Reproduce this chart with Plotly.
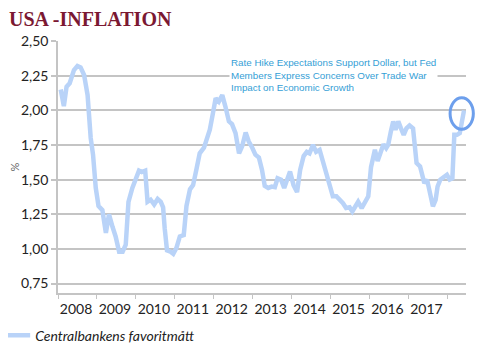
import plotly.graph_objects as go

# Decimal-year positions and values (core inflation, %)
years = [2008.07, 2008.15, 2008.22, 2008.30, 2008.41, 2008.50, 2008.58, 2008.67, 2008.76, 2008.84,
         2008.90, 2008.97, 2009.04, 2009.14, 2009.23, 2009.31, 2009.40, 2009.48, 2009.57, 2009.66,
         2009.74, 2009.81, 2009.91, 2010.00, 2010.08, 2010.15, 2010.24, 2010.30, 2010.38, 2010.47,
         2010.56, 2010.64, 2010.70, 2010.74, 2010.80, 2010.89, 2010.96, 2011.04, 2011.13, 2011.23,
         2011.30, 2011.39, 2011.47, 2011.56, 2011.64, 2011.75, 2011.82, 2011.90, 2011.98, 2012.05,
         2012.13, 2012.22, 2012.30, 2012.39, 2012.47, 2012.56, 2012.65, 2012.73, 2012.82, 2012.90,
         2012.99, 2013.07, 2013.16, 2013.24, 2013.31, 2013.40, 2013.49, 2013.57, 2013.64, 2013.73,
         2013.81, 2013.90, 2013.96, 2014.05, 2014.14, 2014.22, 2014.31, 2014.39, 2014.46, 2014.55,
         2014.63, 2014.72, 2014.80, 2014.91, 2014.99, 2015.06, 2015.15, 2015.23, 2015.32, 2015.40,
         2015.49, 2015.56, 2015.65, 2015.71, 2015.80, 2015.88, 2015.97, 2016.04, 2016.10, 2016.14,
         2016.21, 2016.30, 2016.36, 2016.43, 2016.48, 2016.55, 2016.61, 2016.67, 2016.74, 2016.81,
         2016.88, 2016.95, 2017.03, 2017.12, 2017.17, 2017.21, 2017.30, 2017.36, 2017.41, 2017.48,
         2017.53, 2017.58, 2017.63, 2017.70, 2017.75, 2017.82, 2017.91, 2017.99, 2018.06, 2018.13,
         2018.18, 2018.25, 2018.32, 2018.37, 2018.43]
values = [2.15, 2.03, 2.17, 2.195, 2.29, 2.32, 2.31, 2.255, 2.11, 1.80,
          1.68, 1.44, 1.31, 1.28, 1.115, 1.25, 1.16, 1.09, 0.98, 0.98,
          1.03, 1.34, 1.44, 1.51, 1.565, 1.555, 1.565, 1.34, 1.355, 1.32,
          1.36, 1.34, 1.30, 1.15, 0.99, 0.98, 0.965, 1.006, 1.09, 1.10,
          1.31, 1.43, 1.46, 1.58, 1.69, 1.73, 1.787, 1.86, 1.98, 2.087,
          2.063, 2.11, 2.027, 1.92, 1.90, 1.835, 1.69, 1.74, 1.84, 1.775,
          1.73, 1.68, 1.66, 1.57, 1.455, 1.44, 1.45, 1.446, 1.51, 1.50,
          1.44, 1.50, 1.558, 1.46, 1.41, 1.57, 1.67, 1.70, 1.69, 1.75,
          1.70, 1.715, 1.64, 1.547, 1.46, 1.38, 1.38, 1.36, 1.33, 1.295,
          1.30, 1.27, 1.31, 1.34, 1.295, 1.33, 1.38, 1.59, 1.68, 1.715,
          1.635, 1.715, 1.755, 1.727, 1.75, 1.847, 1.92, 1.86, 1.92, 1.87,
          1.823, 1.87, 1.89, 1.87, 1.763, 1.62, 1.595, 1.535, 1.475, 1.50,
          1.44, 1.367, 1.307, 1.354, 1.45, 1.50, 1.52, 1.535, 1.50, 1.51,
          1.823, 1.823, 1.835, 1.93, 2.00]

year_ticks = [2008, 2009, 2010, 2011, 2012, 2013, 2014, 2015, 2016, 2017, 2018]
year_labels = ["2008", "2009", "2010", "2011", "2012", "2013", "2014", "2015", "2016", "2017", ""]
y_ticks = [0.75, 1.00, 1.25, 1.50, 1.75, 2.00, 2.25, 2.50]

series_name = "Centralbankens favoritmått"
title_text = "USA -INFLATION"
note_text = ("Rate Hike Expectations Support Dollar, but Fed<br>"
             "Members Express Concerns Over Trade War<br>"
             "Impact on Economic Growth")

fig = go.Figure()
fig.add_trace(go.Scatter(
    x=years, y=values, mode="lines", name=series_name,
    line=dict(color="#b9d3f8", width=4.5),
))

grid_col = "#c4c4c4"
fig.update_layout(
    width=480, height=350,
    margin=dict(l=50, r=22, t=33, b=65, autoexpand=False),
    paper_bgcolor="white", plot_bgcolor="white",
    separators=",.",
    font=dict(family="Lato, sans-serif", size=14, color="#222222"),
    title=dict(text="<b>" + title_text + "</b>", x=0.002, xanchor="left", y=0.99, yanchor="top",
               font=dict(family="Liberation Serif, serif", size=20, color="#7b1832")),
    showlegend=True,
    legend=dict(orientation="h", x=-0.154, xanchor="left", y=-0.169, yanchor="middle",
                font=dict(family="Lato, sans-serif", size=14, color="#222222", style="italic"),
                bgcolor="rgba(0,0,0,0)"),
    xaxis=dict(
        range=[2008.0, 2018.48], tickmode="array", tickvals=year_ticks, ticktext=year_labels,
        ticks="outside", ticklen=4, tickcolor=grid_col, tickwidth=1,
        ticklabelshift=18, ticklabelstandoff=-2, automargin=False,
        showgrid=False, showline=True, linecolor=grid_col, linewidth=1.5,
        zeroline=False, tickfont=dict(size=14, color="#222222"),
    ),
    yaxis=dict(
        range=[0.682, 2.5], tickmode="array", tickvals=y_ticks, tickformat=".2f",
        ticks="outside", ticklen=5, tickcolor=grid_col, tickwidth=1.5, automargin=False,
        showgrid=True, gridcolor=grid_col, gridwidth=1.5,
        showline=True, linecolor=grid_col, linewidth=1.5, zeroline=False,
        tickfont=dict(size=14, color="#222222"),
        title=dict(text="%", font=dict(size=11, color="#666666"), standoff=0),
    ),
)

fig.add_annotation(
    text=note_text, xref="paper", yref="paper", x=0.4196, y=0.945, xanchor="left", yanchor="top",
    align="left", showarrow=False, bgcolor="white", borderpad=1,
    font=dict(family="Liberation Sans, Arial, sans-serif", size=9.8, color="#35a0d6"),
)

fig.add_shape(type="circle", xref="paper", yref="paper",
              x0=0.961, x1=1.018, y0=0.650, y1=0.775,
              line=dict(color="#6d9fec", width=3), layer="above")

fig.write_html("out.html")
